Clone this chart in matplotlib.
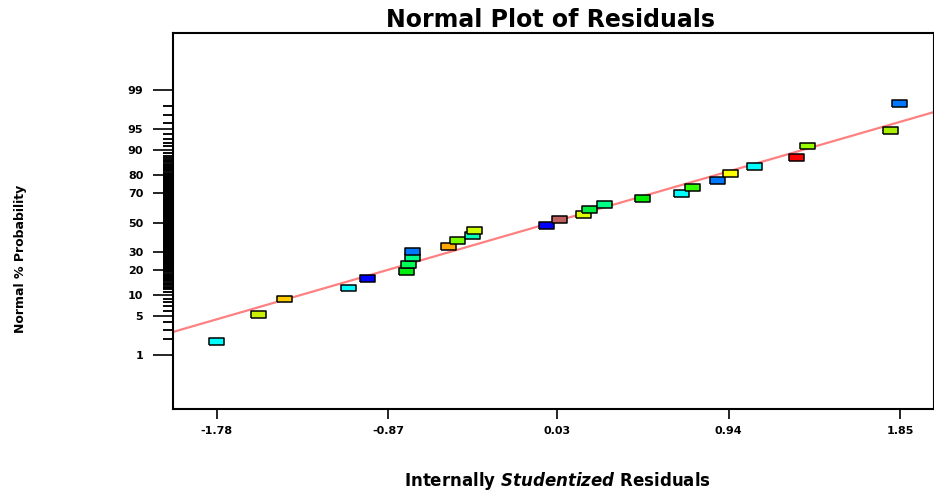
import numpy as np
import matplotlib
matplotlib.use('Agg')
import matplotlib.pyplot as plt
from statistics import NormalDist

# ---- data ----
residuals = [-1.78, -1.56, -1.42, -1.08, -0.98, -0.77, -0.76, -0.74, -0.74, -0.55,
             -0.50, -0.42, -0.41, -0.03, 0.04, 0.17, 0.20, 0.28, 0.48, 0.69,
             0.75, 0.88, 0.95, 1.08, 1.30, 1.36, 1.80, 1.85]
probability = [1.79, 5.36, 8.93, 12.50, 16.07, 19.64, 23.21, 26.79, 30.36, 33.93,
               37.50, 41.07, 44.64, 48.21, 51.79, 55.36, 58.93, 62.50, 66.07, 69.64,
               73.21, 76.79, 80.36, 83.93, 87.50, 91.07, 94.64, 98.21]
colors = ['#00FFFF', '#C8F000', '#FFCC00', '#00FFFF', '#0000FF', '#00EE11', '#00FF55', '#00FF88',
          '#0077FF', '#FFAA00', '#77FF00', '#00FFBB', '#CCFF00', '#0000FF', '#C06060', '#DDFF00',
          '#00EE44', '#00FF88', '#00EE00', '#00FFFF', '#33FF00', '#0077FF', '#FFFF00', '#00FFFF',
          '#FF0000', '#99FF00', '#AAEE00', '#0077FF']
xticks = [-1.78, -0.87, 0.03, 0.94, 1.85]
xtick_labels = ['-1.78', '-0.87', '0.03', '0.94', '1.85']
ymajor = [1, 5, 10, 20, 30, 50, 70, 80, 90, 95, 99]
ymajor_labels = ['1', '5', '10', '20', '30', '50', '70', '80', '90', '95', '99']
yminor = [v for v in range(2, 99) if v not in ymajor] + [v + 0.5 for v in range(12, 87)]
line_x = [-2.012, 2.031]
line_pct = [2.72, 97.39]

# ---- normal probability scale ----
_nd = NormalDist()
def fwd(p):
    p = np.clip(np.asarray(p, dtype=float) / 100.0, 1e-9, 1 - 1e-9)
    return np.vectorize(_nd.inv_cdf, otypes=[float])(p)
def inv(z):
    z = np.asarray(z, dtype=float)
    return 100.0 * np.vectorize(_nd.cdf, otypes=[float])(z)

plt.rcParams['font.family'] = ['DejaVu Sans']
plt.rcParams['mathtext.fontset'] = 'custom'
plt.rcParams['mathtext.it'] = 'DejaVu Sans:italic:bold'
plt.rcParams['mathtext.rm'] = 'DejaVu Sans:bold'

W, H = 934, 494
fig = plt.figure(figsize=(W / 100, H / 100), dpi=100)
ax = fig.add_axes([173 / W, (H - 409) / H, 761 / W, 375.5 / H])
ax.set_yscale('function', functions=(fwd, inv))
ax.set_xlim(-2.012, 2.031)
ax.set_ylim(0.0523, 99.9553)

ax.plot(line_x, line_pct, color='#FF8080', lw=1.6, zorder=2)

rect = [(-1, -0.46), (1, -0.46), (1, 0.46), (-1, 0.46), (-1, -0.46)]
ax.scatter(residuals, probability, c=colors, marker=rect, s=10.8 ** 2,
           edgecolors='black', linewidths=1.1, zorder=3)

ax.set_xticks(xticks)
ax.set_xticklabels(xtick_labels, fontsize=8, fontweight='bold')
ax.set_yticks(ymajor)
ax.set_yticklabels(ymajor_labels, fontsize=8, fontweight='bold')
ax.set_yticks(yminor, minor=True)
ax.yaxis.set_minor_formatter(matplotlib.ticker.NullFormatter())
ax.xaxis.set_minor_locator(matplotlib.ticker.NullLocator())
ax.tick_params(axis='y', which='major', length=14.4, width=1.2, pad=7)
ax.tick_params(axis='y', which='minor', length=7.2, width=1.35)
ax.tick_params(axis='x', which='major', length=7.2, width=1.2, pad=5)
for s in ax.spines.values():
    s.set_linewidth(1.5)

fig.text(550 / W, 1 - 20 / H, 'Normal Plot of Residuals', ha='center', va='center',
         fontsize=17, fontweight='bold')
fig.text(558 / W, 1 - 481 / H, r'Internally $Studentized$ Residuals', ha='center', va='center',
         fontsize=12, fontweight='bold')
fig.text(20.5 / W, 1 - 259 / H, 'Normal % Probability', ha='center', va='center',
         rotation=90, fontsize=9, fontweight='bold')

fig.savefig('out.png', dpi=100)
